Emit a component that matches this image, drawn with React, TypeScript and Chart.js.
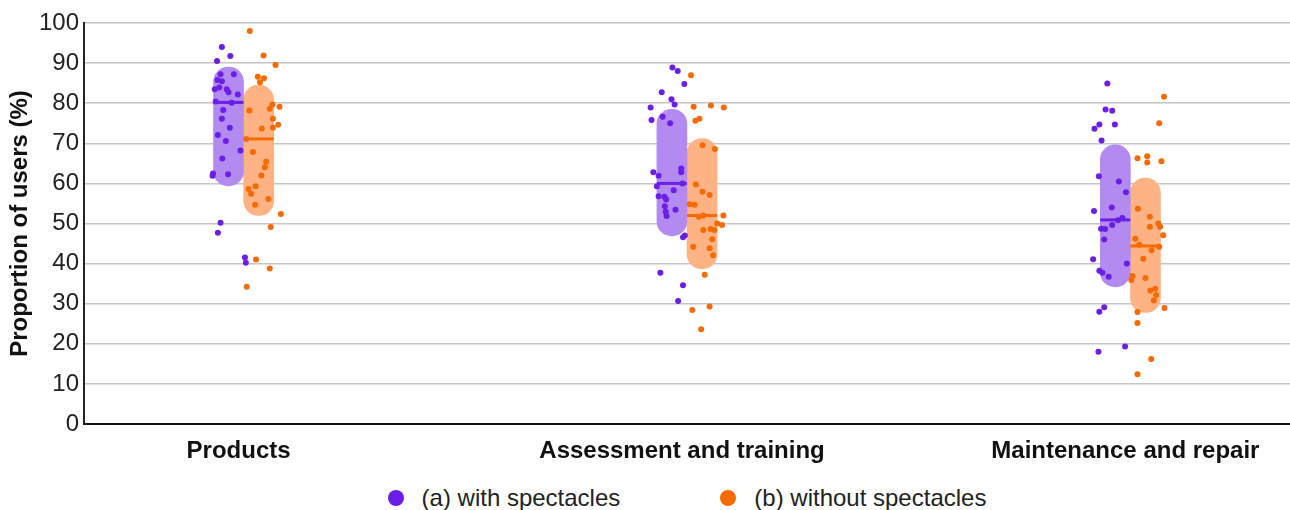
import React, { useEffect, useRef } from 'react';
import { Chart, registerables } from 'chart.js';

Chart.register(...registerables);

const categories = ['Products', 'Assessment and training', 'Maintenance and repair'];
const seriesNames = ['(a) with spectacles', '(b) without spectacles'];

// Range bars (low / high) and medians per category
const withLow = [59.4, 46.9, 34.2];
const withHigh = [89.0, 78.5, 69.6];
const withMedian = [80.2, 60.0, 50.9];
const withoutLow = [52.0, 38.7, 27.8];
const withoutHigh = [84.5, 71.2, 61.3];
const withoutMedian = [71.1, 52.0, 44.4];

// Individual users, with spectacles
const withProducts = [94.0, 91.8, 90.5, 87.2, 87.2, 85.8, 85.5, 83.5, 83.9, 83.5, 82.7, 82.2, 80.4, 80.1, 78.3, 76.1, 73.9, 72.1, 70.6, 68.2, 66.2, 62.5, 61.9, 62.3, 50.2, 47.7, 41.5, 40.2];
const withProductsJitter = [-0.049, -0.030, -0.060, -0.052, -0.022, -0.059, -0.049, -0.065, -0.055, -0.038, -0.034, -0.013, -0.063, -0.027, -0.046, -0.049, -0.031, -0.058, -0.040, -0.007, -0.048, -0.069, -0.070, -0.035, -0.052, -0.058, 0.003, 0.005];
const withAssessment = [88.9, 88.0, 84.8, 82.7, 81.0, 79.7, 78.9, 75.8, 76.6, 75.0, 63.7, 62.8, 62.8, 61.9, 60.0, 59.3, 58.3, 56.8, 56.7, 56.0, 54.3, 52.9, 51.9, 53.4, 47.0, 46.6, 37.7, 34.6, 30.7];
const withAssessmentJitter = [-0.033, -0.021, -0.006, -0.057, -0.035, -0.028, -0.082, -0.080, -0.055, -0.038, -0.013, -0.013, -0.076, -0.064, -0.010, -0.068, -0.030, -0.064, -0.051, -0.047, -0.050, -0.048, -0.046, -0.026, -0.005, -0.009, -0.060, -0.009, -0.020];
const withMaintenance = [84.9, 78.4, 78.1, 74.7, 74.7, 73.6, 70.7, 61.8, 60.5, 57.8, 54.0, 53.1, 51.4, 50.8, 48.7, 48.6, 49.6, 46.0, 41.1, 40.0, 38.2, 37.7, 36.7, 29.1, 28.0, 18.0, 19.3];
const withMaintenanceJitter = [-0.052, -0.056, -0.041, -0.070, -0.035, -0.081, -0.065, -0.071, -0.026, -0.010, -0.042, -0.082, -0.018, -0.028, -0.066, -0.057, -0.041, -0.059, -0.084, -0.008, -0.070, -0.063, -0.049, -0.059, -0.070, -0.072, -0.012];

// Individual users, without spectacles
const withoutProducts = [98.0, 91.9, 89.5, 86.6, 86.2, 85.2, 79.7, 79.1, 78.6, 78.2, 76.1, 74.6, 73.9, 73.7, 71.1, 67.8, 65.4, 64.0, 62.0, 59.3, 58.6, 57.4, 56.1, 54.7, 52.4, 49.1, 41.0, 38.8, 34.2];
const withoutProductsJitter = [0.014, 0.045, 0.072, 0.032, 0.046, 0.037, 0.065, 0.081, 0.059, 0.013, 0.066, 0.078, 0.066, 0.041, 0.006, 0.021, 0.051, 0.048, 0.040, 0.027, 0.011, 0.017, 0.056, 0.026, 0.084, 0.061, 0.028, 0.059, 0.007];
const withoutAssessment = [87.0, 79.1, 79.4, 78.9, 75.6, 76.1, 69.5, 68.6, 59.7, 57.9, 57.1, 54.8, 54.7, 51.7, 52.0, 52.0, 50.0, 49.6, 48.6, 48.4, 48.4, 46.1, 44.2, 43.8, 42.1, 37.2, 28.4, 29.3, 23.6];
const withoutAssessmentJitter = [0.009, 0.015, 0.054, 0.083, 0.019, 0.028, 0.035, 0.063, 0.020, 0.035, 0.051, 0.006, 0.017, 0.027, 0.037, 0.082, 0.068, 0.079, 0.053, 0.062, 0.037, 0.057, 0.014, 0.051, 0.059, 0.040, 0.012, 0.051, 0.032];
const withoutMaintenance = [81.6, 75.0, 66.3, 66.8, 65.2, 65.5, 53.7, 51.7, 50.0, 49.2, 49.2, 47.1, 46.2, 44.7, 44.2, 43.3, 41.2, 36.9, 35.9, 36.4, 33.3, 33.7, 32.2, 30.8, 28.9, 27.9, 25.2, 16.2, 12.4];
const withoutMaintenanceJitter = [0.076, 0.065, 0.016, 0.038, 0.038, 0.070, 0.017, 0.044, 0.063, 0.067, 0.044, 0.074, 0.011, 0.020, 0.065, 0.048, 0.029, 0.005, 0.002, 0.034, 0.045, 0.056, 0.058, 0.053, 0.077, 0.016, 0.016, 0.047, 0.016];

const yTicks = [0, 10, 20, 30, 40, 50, 60, 70, 80, 90, 100];

const PURPLE = '#6a1ee6';
const PURPLE_LIGHT = '#b28af0';
const ORANGE = '#f56b00';
const ORANGE_LIGHT = '#ffb283';
const FONT = '"Liberation Sans", Arial, sans-serif';
const GROUP_SHIFT = 0.034; // half bar width in category units

const toPoints = (groups: number[][], jitters: number[][]) =>
  groups.flatMap((vals, i) => vals.map((v, k) => ({ x: i + jitters[i][k], y: v })));

const App: React.FC = () => {
  const canvasRef = useRef<HTMLCanvasElement>(null);

  useEffect(() => {
    if (!canvasRef.current) return;

    const chart = new Chart(canvasRef.current, {
      type: 'bar',
      data: {
        datasets: [
          {
            type: 'scatter',
            label: 'with median',
            data: withMedian.map((m, i) => ({ x: i - GROUP_SHIFT, y: m })),
            pointStyle: 'line',
            radius: 15,
            borderColor: PURPLE,
            borderWidth: 3,
            order: 1,
          },
          {
            type: 'scatter',
            label: 'without median',
            data: withoutMedian.map((m, i) => ({ x: i + GROUP_SHIFT, y: m })),
            pointStyle: 'line',
            radius: 15,
            borderColor: ORANGE,
            borderWidth: 3,
            order: 1,
          },
          {
            type: 'scatter',
            label: seriesNames[0],
            data: toPoints(
              [withProducts, withAssessment, withMaintenance],
              [withProductsJitter, withAssessmentJitter, withMaintenanceJitter]
            ),
            backgroundColor: PURPLE,
            borderWidth: 0,
            radius: 3,
            order: 2,
          },
          {
            type: 'scatter',
            label: seriesNames[1],
            data: toPoints(
              [withoutProducts, withoutAssessment, withoutMaintenance],
              [withoutProductsJitter, withoutAssessmentJitter, withoutMaintenanceJitter]
            ),
            backgroundColor: ORANGE,
            borderWidth: 0,
            radius: 3,
            order: 2,
          },
          {
            type: 'bar',
            label: 'with range',
            data: withLow.map((lo, i) => ({ x: i - GROUP_SHIFT, y: [lo, withHigh[i]] })) as any,
            backgroundColor: PURPLE_LIGHT,
            borderRadius: 15,
            borderSkipped: false,
            barThickness: 30,
            grouped: false,
            order: 3,
          },
          {
            type: 'bar',
            label: 'without range',
            data: withoutLow.map((lo, i) => ({ x: i + GROUP_SHIFT, y: [lo, withoutHigh[i]] })) as any,
            backgroundColor: ORANGE_LIGHT,
            borderRadius: 15,
            borderSkipped: false,
            barThickness: 30,
            grouped: false,
            order: 3,
          },
        ],
      },
      options: {
        responsive: true,
        maintainAspectRatio: false,
        animation: false,
        layout: { autoPadding: false, padding: { top: 23, right: 0, left: 0, bottom: 0 } },
        plugins: {
          legend: { display: false },
          tooltip: { enabled: false },
        },
        scales: {
          x: {
            type: 'linear',
            min: -0.36,
            max: 2.36,
            offset: false,
            grid: { display: false, drawTicks: false },
            border: { display: true, color: '#111', width: 2 },
            afterBuildTicks: (scale: any) => {
              scale.ticks = categories.map((_, i) => ({ value: i }));
            },
            afterFit: (scale: any) => {
              scale.height = 46;
              scale.paddingLeft = 0;
              scale.paddingRight = 0;
            },
            ticks: {
              autoSkip: false,
              maxRotation: 0,
              padding: 13,
              labelOffset: -5,
              color: '#111',
              font: { family: FONT, size: 24, weight: 'bold' },
              callback: (value: any) => categories[Number(value)] ?? '',
            },
          },
          y: {
            min: 0,
            max: 100,
            afterBuildTicks: (scale: any) => {
              scale.ticks = yTicks.map((v) => ({ value: v }));
            },
            afterFit: (scale: any) => {
              scale.width = 84;
            },
            grid: { color: '#c6c6c6', lineWidth: 1.5, drawTicks: false },
            border: { display: true, color: '#222', width: 2 },
            ticks: {
              padding: 5,
              color: '#222',
              font: { family: FONT, size: 24 },
            },
            title: {
              display: true,
              text: 'Proportion of users (%)',
              color: '#111',
              padding: { top: 6, bottom: 0 },
              font: { family: FONT, size: 24, weight: 'bold' },
            },
          },
        },
      },
    });

    return () => {
      chart.destroy();
    };
  }, []);

  const legendItems = [
    { label: seriesNames[0], color: PURPLE },
    { label: seriesNames[1], color: ORANGE },
  ];

  return (
    <div
      style={{
        position: 'absolute',
        left: 0,
        top: 0,
        width: 1290,
        height: 510,
        overflow: 'hidden',
        background: '#fff',
      }}
    >
      <div style={{ position: 'relative', width: 1290, height: 470 }}>
        <canvas ref={canvasRef} />
      </div>
      <div
        style={{
          position: 'absolute',
          left: 84,
          right: 0,
          top: 484,
          height: 28,
          display: 'flex',
          justifyContent: 'center',
          alignItems: 'center',
          gap: 100,
          fontFamily: FONT,
          fontSize: 24,
          color: '#222',
        }}
      >
        {legendItems.map((item) => (
          <div key={item.label} style={{ display: 'flex', alignItems: 'center' }}>
            <span
              style={{
                display: 'inline-block',
                width: 16,
                height: 16,
                borderRadius: '50%',
                background: item.color,
                marginRight: 18,
              }}
            />
            <span>{item.label}</span>
          </div>
        ))}
      </div>
    </div>
  );
};

export default App;
